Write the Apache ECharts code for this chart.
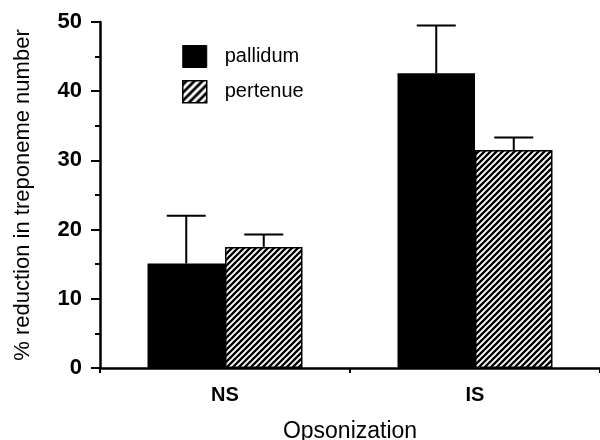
<!DOCTYPE html>
<html>
<head>
<meta charset="utf-8">
<script src="https://cdn.jsdelivr.net/npm/echarts@6/dist/echarts.min.js"></script>
<style>
  html, body { margin: 0; padding: 0; background: #fff; }
  #chart { width: 600px; height: 440px; }
</style>
</head>
<body>
<div id="chart"></div>
<script>
// 数据
var categories = ['NS', 'IS']
var pallidumMean = [15.1, 42.6]
var pallidumErr = [6.9, 6.9]
var pertenueMean = [17.5, 31.5]
var pertenueErr = [1.8, 1.8]
var yTicks = [0, 10, 20, 30, 40, 50]

var FONT = '"Liberation Sans", Arial, Helvetica, sans-serif'
var BAR_FRAC = 0.31

// 斜线填充
function stripes(size, lw, bg, fg) {
  var c = document.createElement('canvas')
  c.width = size
  c.height = size
  var ctx = c.getContext('2d')
  ctx.fillStyle = bg
  ctx.fillRect(0, 0, size, size)
  ctx.strokeStyle = fg
  ctx.lineWidth = lw
  ctx.beginPath()
  ctx.moveTo(-1, size + 1); ctx.lineTo(size + 1, -1)
  ctx.moveTo(-1, 1); ctx.lineTo(1, -1)
  ctx.moveTo(size - 1, size + 1); ctx.lineTo(size + 1, size - 1)
  ctx.stroke()
  return { image: c, repeat: 'repeat' }
}
var barHatch = stripes(6, 2.3, '#fff', '#000')
var legendHatch = stripes(8, 3, '#000', '#fff')

function errData(mean, err) {
  return mean.map(function (m, i) { return [i, m, m + err[i]] })
}

function errRender(side) {
  return function (params, api) {
    var base = api.coord([api.value(0), api.value(1)])
    var top = api.coord([api.value(0), api.value(2)])
    var band = api.size([1, 0])[0]
    var cx = base[0] + side * band * BAR_FRAC / 2
    var cap = 19.5
    var st = { stroke: '#000', lineWidth: 2 }
    return {
      type: 'group',
      children: [
        { type: 'line', shape: { x1: cx, y1: base[1], x2: cx, y2: top[1] }, style: st },
        { type: 'line', shape: { x1: cx - cap, y1: top[1], x2: cx + cap, y2: top[1] }, style: st }
      ]
    }
  }
}

var myChart = echarts.init(document.getElementById('chart'))
var option = {
  animation: false,
  textStyle: { fontFamily: FONT, color: '#000' },
  grid: { left: 100, right: 0, top: 22, bottom: 72, outerBoundsMode: 'none', containLabel: false },
  legend: {
    orient: 'vertical',
    left: 177,
    top: 40,
    itemWidth: 24,
    itemHeight: 22,
    itemGap: 12,
    icon: 'rect',
    selectedMode: false,
    textStyle: { fontFamily: FONT, fontSize: 20, color: '#000', padding: [0, 0, 0, 13] },
    data: [
      { name: 'pallidum', itemStyle: { color: '#000', borderColor: '#000', borderWidth: 1 } },
      { name: 'pertenue', itemStyle: { color: legendHatch, borderColor: '#000', borderWidth: 1.5 } }
    ]
  },
  xAxis: {
    type: 'category',
    data: categories,
    name: 'Opsonization',
    nameLocation: 'middle',
    nameGap: 52,
    nameTextStyle: { fontFamily: FONT, fontSize: 23, color: '#000' },
    axisLine: { lineStyle: { color: '#000', width: 2.5 } },
    axisTick: { show: true, length: 5, lineStyle: { color: '#000', width: 2 } },
    axisLabel: { margin: 17, fontFamily: FONT, fontSize: 20, fontWeight: 'bold', color: '#000' },
    splitLine: { show: false }
  },
  yAxis: {
    type: 'value',
    min: yTicks[0],
    max: yTicks[yTicks.length - 1],
    interval: 10,
    name: '% reduction in treponeme number',
    nameLocation: 'middle',
    nameGap: 66,
    nameTextStyle: { fontFamily: FONT, fontSize: 22, color: '#000' },
    axisLine: { show: true, lineStyle: { color: '#000', width: 2.5 } },
    axisTick: { show: true, length: 9, lineStyle: { color: '#000', width: 2 } },
    minorTick: { show: true, splitNumber: 2, length: 5, lineStyle: { color: '#000', width: 2 } },
    axisLabel: { margin: 18, fontFamily: FONT, fontSize: 22, fontWeight: 'bold', color: '#000' },
    splitLine: { show: false }
  },
  series: [
    {
      name: 'pallidum',
      type: 'bar',
      data: pallidumMean,
      barWidth: (BAR_FRAC * 100) + '%',
      barGap: '0%',
      itemStyle: { color: '#000', borderColor: '#000', borderWidth: 1.5 }
    },
    {
      name: 'pertenue',
      type: 'bar',
      data: pertenueMean,
      barWidth: (BAR_FRAC * 100) + '%',
      barGap: '0%',
      itemStyle: { color: barHatch, borderColor: '#000', borderWidth: 1.5 }
    },
    {
      name: 'err1',
      type: 'custom',
      data: errData(pallidumMean, pallidumErr),
      renderItem: errRender(-1),
      z: 5
    },
    {
      name: 'err2',
      type: 'custom',
      data: errData(pertenueMean, pertenueErr),
      renderItem: errRender(1),
      z: 5
    }
  ]
}
myChart.setOption(option)
</script>
</body>
</html>
